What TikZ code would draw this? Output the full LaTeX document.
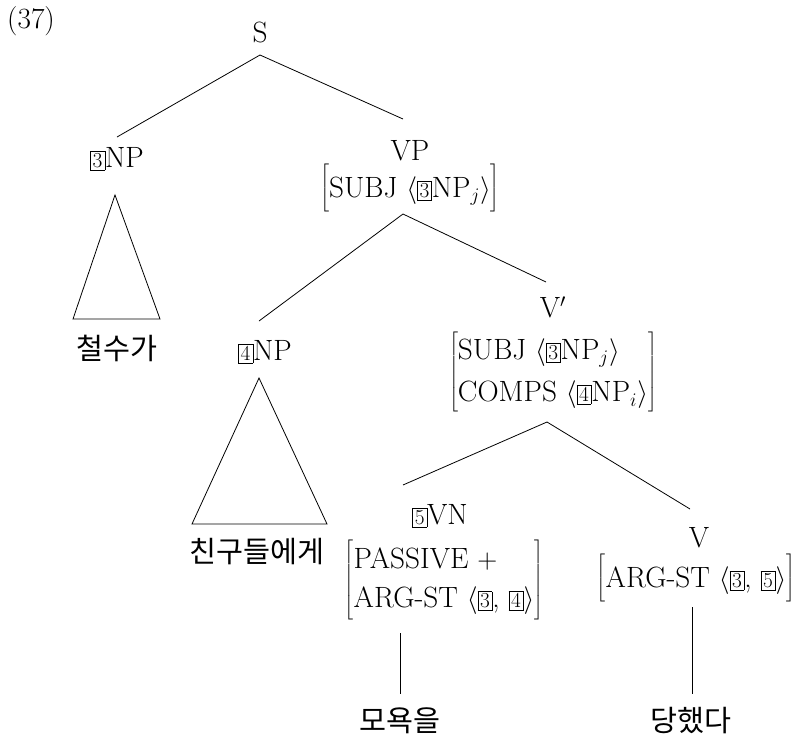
\documentclass[tikz,border=0pt]{standalone}
\usepackage{fontspec}
\newfontfamily\kr{Noto Sans CJK KR}
\newcommand{\bx}[1]{{\setlength{\fboxsep}{1.5pt}\setlength{\fboxrule}{0.4pt}\fbox{\fontsize{16}{16}\selectfont #1}}}
\newcommand{\avmx}[2][1]{{\renewcommand{\arraystretch}{#1}$\left[\begin{tabular}{@{}l@{}}#2\end{tabular}\right]$}}
\begin{document}
\begin{tikzpicture}[x=0.75pt,y=-0.75pt,
  every node/.style={font=\fontsize{22}{26}\selectfont, inner sep=0pt},
  edge/.style={line width=0.6pt},
  tri/.style={line width=0.6pt}]
\useasboundingbox (0,0) rectangle (810,740);
\node (ex) at (31,21) {(37)};
\node (S) at (260,32) {S};
\node (NPa) at (117,159) {\bx{3}NP};
\node (kA) at (117,348) {\kr 철수가};
\node (VP) at (410,151) {VP};
\node (VPavm) at (410,188) {\avmx[1.4]{SUBJ $\langle$\bx{3}NP$_j\rangle$}};
\node (NPb) at (265,352) {\bx{4}NP};
\node (kB) at (257,552) {\kr 친구들에게};
\node (Vbar) at (553,307) {V$'$};
\node (Vbaravm) at (553,372) {\avmx[1.23]{SUBJ $\langle$\bx{3}NP$_j\rangle$\\COMPS $\langle$\bx{4}NP$_i\rangle$}};
\node (VN) at (440,516) {\bx{5}VN};
\node (VNavm) at (444,580) {\avmx[1.15]{PASSIVE $+$\\ARG-ST $\langle$\bx{3}, \bx{4}$\rangle$}};
\node (V) at (699,538) {V};
\node (Vavm) at (696,578) {\avmx[1.4]{ARG-ST $\langle$\bx{3}, \bx{5}$\rangle$}};
\node (kC) at (400,721) {\kr 모욕을};
\node (kD) at (691,721) {\kr 당했다};
% connector points
\coordinate (Sd) at (260,55);
\coordinate (NPau) at (117,137);
\coordinate (VPu) at (403,119);
\coordinate (VPd) at (403,214);
\coordinate (NPbu) at (259,321);
\coordinate (Vbaru) at (546,282);
\coordinate (Vbard) at (547,422);
\coordinate (VNu) at (403,485);
\coordinate (Vu) at (690,509);
\coordinate (VNd) at (400,633);
\coordinate (kCu) at (400,694);
\coordinate (Vd) at (692,607);
\coordinate (kDu) at (692,694);
\draw[edge] (NPau) -- (Sd) -- (VPu);
\draw[edge] (NPbu) -- (VPd) -- (Vbaru);
\draw[edge] (VNu) -- (Vbard) -- (Vu);
\draw[edge] (VNd) -- (kCu);
\draw[edge] (Vd) -- (kDu);
% triangles
\coordinate (ta) at (115,195);
\coordinate (tb) at (259,378);
\draw[tri] (ta) -- (160,319) -- (73,319) -- cycle;
\draw[tri] (tb) -- (327,524) -- (192,524) -- cycle;
\end{tikzpicture}
\end{document}
